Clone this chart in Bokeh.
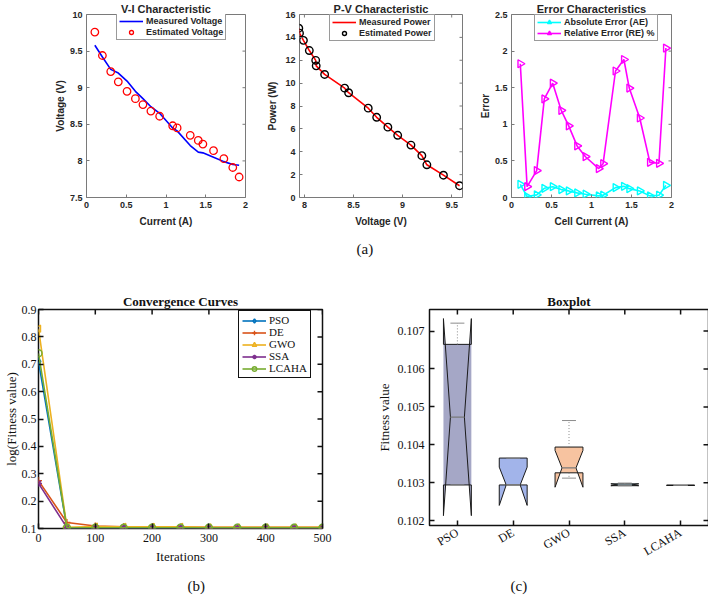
import numpy as np
from bokeh.plotting import figure
from bokeh.layouts import row, column
from bokeh.models import (Legend, LegendItem, Title, FixedTicker,
                          Range1d, CustomJSTickFormatter)
from bokeh.embed import file_html
from bokeh.resources import INLINE

# ---------------- data ----------------
cell_current = [0.105, 0.20, 0.305, 0.40, 0.51, 0.615, 0.71, 0.81, 0.92, 1.084,
                1.14, 1.305, 1.406, 1.464, 1.598, 1.728, 1.84, 1.92]
measured_voltage = [9.58, 9.42, 9.25, 9.20, 9.09, 8.95, 8.85, 8.74, 8.65, 8.45,
                    8.41, 8.21, 8.12, 8.11, 8.05, 7.99, 7.95, 7.94]
estimated_voltage = [9.76, 9.44, 9.22, 9.08, 8.95, 8.85, 8.77, 8.68, 8.61, 8.48,
                     8.45, 8.35, 8.28, 8.23, 8.14, 8.03, 7.91, 7.78]

pv_voltage = [7.943, 7.95, 7.99, 8.05, 8.115, 8.12, 8.206, 8.41, 8.45, 8.65,
              8.736, 8.85, 8.95, 9.085, 9.196, 9.247, 9.416, 9.58]
measured_power = [14.80, 14.37, 13.74, 12.85, 11.99, 11.51, 10.76, 9.56, 9.16, 7.81,
                  7.01, 6.15, 5.44, 4.58, 3.66, 2.86, 1.95, 1.03]
estimated_power = [14.80, 14.37, 13.74, 12.85, 11.99, 11.51, 10.76, 9.56, 9.16, 7.81,
                   7.01, 6.15, 5.44, 4.58, 3.66, 2.86, 1.95, 1.03]

error_current = [0.11, 0.195, 0.315, 0.41, 0.515, 0.622, 0.715, 0.82, 0.925, 1.09,
                 1.145, 1.30, 1.405, 1.472, 1.603, 1.73, 1.843, 1.93]
absolute_error = [0.18, 0.013, 0.036, 0.126, 0.148, 0.108, 0.09, 0.063, 0.045, 0.022,
                  0.031, 0.135, 0.153, 0.121, 0.09, 0.022, 0.031, 0.166]
relative_error = [1.827, 0.148, 0.368, 1.347, 1.562, 1.189, 0.978, 0.705, 0.557, 0.395,
                  0.462, 1.728, 1.885, 1.495, 1.086, 0.48, 0.467, 2.042]

iterations = [0, 50, 100, 150, 200, 250, 300, 350, 400, 450, 500]
conv_pso = [0.71, 0.103, 0.103, 0.103, 0.103, 0.103, 0.103, 0.103, 0.103, 0.103, 0.103]
conv_de = [0.275, 0.122, 0.109, 0.106, 0.105, 0.105, 0.104, 0.104, 0.104, 0.104, 0.104]
conv_gwo = [0.83, 0.104, 0.107, 0.106, 0.106, 0.106, 0.104, 0.104, 0.104, 0.104, 0.104]
conv_ssa = [0.265, 0.103, 0.103, 0.103, 0.103, 0.103, 0.103, 0.103, 0.103, 0.103, 0.103]
conv_lcaha = [0.74, 0.103, 0.103, 0.103, 0.103, 0.103, 0.103, 0.103, 0.103, 0.103, 0.103]
conv_names = ["PSO", "DE", "GWO", "SSA", "LCAHA"]

algorithms = ["PSO", "DE", "GWO", "SSA", "LCAHA"]
box_q1 = [0.10294, 0.10294, 0.10326, 0.10292, 0.10293]
box_median = [0.10473, 0.10294, 0.10339, 0.10294, 0.10293]
box_q3 = [0.10665, 0.10365, 0.10394, 0.10297, 0.10293]
box_notch_lo = [0.10213, 0.10240, 0.10288, 0.10292, 0.10293]
box_notch_hi = [0.10733, 0.10341, 0.10385, 0.10297, 0.10293]
box_whisker_lo = [0.10294, 0.10294, 0.10312, 0.10292, 0.10293]
box_whisker_hi = [0.10721, 0.10365, 0.10464, 0.10299, 0.10293]
box_fill = ["#a5a7c6", "#a2b4ea", "#f7c3a0", "#6fc0e2", "#d0d0d0"]
box_solid_body = [True, False, False, False, False]   # PSO patch is shaded across the whole box

vi_xticks = [0, 0.5, 1, 1.5, 2]
vi_yticks = [7.5, 8, 8.5, 9, 9.5, 10]
pv_xticks = [8, 8.5, 9, 9.5]
pv_yticks = [0, 2, 4, 6, 8, 10, 12, 14, 16]
err_xticks = [0, 0.5, 1, 1.5, 2]
err_yticks = [0, 0.5, 1, 1.5, 2, 2.5]
conv_xticks = [0, 100, 200, 300, 400, 500]
conv_yticks = [0.1, 0.2, 0.3, 0.4, 0.5, 0.6, 0.7, 0.8, 0.9]
box_xticks = [1, 2, 3, 4, 5]
box_yticks = [0.102, 0.103, 0.104, 0.105, 0.106, 0.107]

# ---------------- styling helpers ----------------
SANS = "Liberation Sans"
SERIF = "Liberation Serif"

num_fmt = CustomJSTickFormatter(code="return String(Math.round(tick * 100000) / 100000);")

TOP = dict(font=SANS, tick_size="9px", tick_style="bold", label_size="10px",
           label_style="bold", text="#262626", line="#7a7a7a", lw=1, tick_len=3,
           title_size="11px")
BOT = dict(font=SERIF, tick_size="12px", tick_style="normal", label_size="13px",
           label_style="normal", text="#111111", line="#111111", lw=1.5, tick_len=5,
           title_size="13px")


def base_fig(width, height, left, right, top, bottom, xr, yr, title, st, title_standoff):
    fw = width - left - right
    fh = height - top - bottom
    p = figure(width=width, height=height, x_range=Range1d(*xr), y_range=Range1d(*yr),
               output_backend="svg", toolbar_location=None,
               min_border_left=left, min_border_right=right,
               min_border_top=top, min_border_bottom=bottom)
    p.frame_width = fw
    p.frame_height = fh
    p.xgrid.visible = False
    p.ygrid.visible = False
    p.outline_line_color = st["line"]
    p.outline_line_width = st["lw"]
    p.outline_line_alpha = 1
    p.title.text = title
    p.title.align = "center"
    p.title.text_font = st["font"]
    p.title.text_font_size = st["title_size"]
    p.title.text_font_style = "bold"
    p.title.text_color = st["text"]
    p.title.standoff = title_standoff
    return p, fw, fh


def style_axes(p, fw, fh, st, xticks, yticks, xlabel, ylabel, xfmt=None,
               x_std=4, y_std=4, xl_std=3, yl_std=2):
    xa, ya = p.below[0], p.left[0]
    for ax, ticks, lab, std, lstd in ((xa, xticks, xlabel, x_std, xl_std),
                                      (ya, yticks, ylabel, y_std, yl_std)):
        ax.ticker = FixedTicker(ticks=ticks)
        ax.formatter = num_fmt
        ax.axis_line_color = None
        ax.major_tick_in = st["tick_len"]
        ax.major_tick_out = 0
        ax.major_tick_line_color = st["line"]
        ax.major_tick_line_width = st["lw"]
        ax.minor_tick_line_color = None
        ax.major_label_text_font = st["font"]
        ax.major_label_text_font_size = st["tick_size"]
        ax.major_label_text_font_style = st["tick_style"]
        ax.major_label_text_color = st["text"]
        ax.major_label_standoff = std
        ax.axis_label = lab
        ax.axis_label_text_font = st["font"]
        ax.axis_label_text_font_size = st["label_size"]
        ax.axis_label_text_font_style = st["label_style"]
        ax.axis_label_text_color = st["text"]
        ax.axis_label_standoff = lstd
    if xfmt is not None:
        xa.formatter = xfmt
    # mirrored inward ticks on the top and right edges of the box
    x0, x1 = p.x_range.start, p.x_range.end
    y0, y1 = p.y_range.start, p.y_range.end
    dy = st["tick_len"] * (y1 - y0) / fh
    dx = st["tick_len"] * (x1 - x0) / fw
    xt = np.array(xticks, dtype=float)
    yt = np.array(yticks, dtype=float)
    p.segment(xt, np.full(len(xt), y1), xt, np.full(len(xt), y1 - dy),
              line_color=st["line"], line_width=st["lw"])
    p.segment(np.full(len(yt), x1), yt, np.full(len(yt), x1 - dx), yt,
              line_color=st["line"], line_width=st["lw"])
    return xa, ya


def add_legend(p, items, loc, st, size, style, border, bw, glyph_w, label_h, spacing, padding):
    lg = Legend(items=items, location=loc, orientation="vertical",
                label_text_font=st["font"], label_text_font_size=size,
                label_text_font_style=style, label_text_color=st["text"],
                border_line_color=border, border_line_width=bw, border_line_alpha=1,
                background_fill_color="white", background_fill_alpha=1,
                glyph_width=glyph_w, glyph_height=label_h, label_height=label_h,
                label_standoff=3, spacing=spacing, padding=padding, margin=0)
    p.add_layout(lg)


def caption(p, text, offset, standoff):
    p.add_layout(Title(text=text, align="left", offset=offset, text_font=SERIF,
                       text_font_size="15px", text_font_style="normal",
                       text_color="#111111", standoff=standoff), "below")


# ---------------- (a) V-I ----------------
pA, fwA, fhA = base_fig(252, 290, 86, 7, 14, 93, (0, 2), (7.5, 10), "V-I Characteristic", TOP, -1)
style_axes(pA, fwA, fhA, TOP, vi_xticks, vi_yticks, "Current (A)", "Voltage (V)", xl_std=5, yl_std=1)
rA1 = pA.line(cell_current, measured_voltage, line_color="#0000ff", line_width=1.6)
rA2 = pA.scatter(cell_current, estimated_voltage, marker="circle", size=7.5,
                 fill_color=None, line_color="#ff0000", line_width=1.3)
add_legend(pA, [LegendItem(label="Measured Voltage", renderers=[rA1]),
                LegendItem(label="Estimated Voltage", renderers=[rA2])],
           (30, 157), TOP, "9px", "bold", "#9a9a9a", 1, 24, 10, 1, 2)

# ---------------- (a) P-V ----------------
pB, fwB, fhB = base_fig(215, 290, 47, 5, 14, 93, (7.95, 9.61), (0, 16), "P-V Characteristic", TOP, -1)
style_axes(pB, fwB, fhB, TOP, pv_xticks, pv_yticks, "Voltage (V)", "Power (W)", xl_std=5, yl_std=4)
rB1 = pB.line(pv_voltage, measured_power, line_color="#ff0000", line_width=1.6)
rB2 = pB.scatter(pv_voltage, estimated_power, marker="circle", size=7.5,
                 fill_color=None, line_color="#000000", line_width=1.4)
add_legend(pB, [LegendItem(label="Measured Power", renderers=[rB1]),
                LegendItem(label="Estimated Power", renderers=[rB2])],
           (30, 156), TOP, "9px", "bold", "#9a9a9a", 1, 24, 10, 1, 2)
caption(pB, "(a)", 57, 19)

# ---------------- (a) Error ----------------
pC, fwC, fhC = base_fig(241, 290, 44, 37, 14, 93, (0, 2), (0, 2.5), "Error Characteristics", TOP, -1)
style_axes(pC, fwC, fhC, TOP, err_xticks, err_yticks, "Cell Current (A)", "Error", xl_std=5, yl_std=1)
rC1 = pC.line(error_current, absolute_error, line_color="#00ffff", line_width=1.6)
rC1m = pC.scatter(error_current, absolute_error, marker="triangle", angle=-np.pi / 2,
                  size=8, fill_color=None, line_color="#00ffff", line_width=1.4)
rC2 = pC.line(error_current, relative_error, line_color="#ff00ff", line_width=1.6)
rC2m = pC.scatter(error_current, relative_error, marker="triangle", angle=-np.pi / 2,
                  size=8, fill_color=None, line_color="#ff00ff", line_width=1.4)
add_legend(pC, [LegendItem(label="Absolute Error (AE)", renderers=[rC1, rC1m]),
                LegendItem(label="Relative Error (RE) %", renderers=[rC2, rC2m])],
           (23, 156), TOP, "9px", "bold", "#9a9a9a", 1, 24, 10, 1, 2)

# ---------------- (b) Convergence ----------------
pD, fwD, fhD = base_fig(370, 306, 35, 51, 19, 68, (0, 500), (0.1, 0.9), "Convergence Curves", BOT, 2)
style_axes(pD, fwD, fhD, BOT, conv_xticks, conv_yticks, "Iterations", "log(Fitness value)",
           x_std=5, y_std=2, xl_std=4, yl_std=0)
series = [conv_pso, conv_de, conv_gwo, conv_ssa, conv_lcaha]
colors = ["#0072BD", "#D95319", "#EDB120", "#7E2F8E", "#77AC30"]
markers = ["diamond", "cross", "triangle", "asterisk", "circle"]
angles = [0, 0, np.pi / 2, 0, 0]
items = []
for name, ys, c, m, a in zip(conv_names, series, colors, markers, angles):
    rl = pD.line(iterations, ys, line_color=c, line_width=1.6)
    rm = pD.scatter(iterations, ys, marker=m, angle=a, size=7, fill_color=None,
                    line_color=c, line_width=1.4)
    items.append(LegendItem(label=name, renderers=[rl, rm]))
add_legend(pD, items, (200, 150), BOT, "11px", "normal", "#111111", 1.3, 24, 11, 0, 3)
caption(pD, "(b)", 149, 18)

# ---------------- (c) Boxplot ----------------
box_fmt = CustomJSTickFormatter(args=dict(names=algorithms),
                                code="return names[Math.round(tick) - 1];")
pE, fwE, fhE = base_fig(336, 306, 54, 3, 19, 71, (0.5, 5.5), (0.10187, 0.10757), "Boxplot", BOT, 2)
xaE, yaE = style_axes(pE, fwE, fhE, BOT, box_xticks, box_yticks, None, "Fitness value",
                      xfmt=box_fmt, x_std=6, y_std=5, xl_std=0, yl_std=3)
xaE.major_label_orientation = np.pi / 6

w = 0.25
pos = np.arange(1, len(algorithms) + 1)
# shaded body (full box) where the patch covers the whole box
solid = [i for i, s in enumerate(box_solid_body) if s]
pE.quad(left=[pos[i] - w for i in solid], right=[pos[i] + w for i in solid],
        bottom=[box_q1[i] for i in solid], top=[box_q3[i] for i in solid],
        fill_color=[box_fill[i] for i in solid], line_color=None)
xs, ys = [], []
for i, x in enumerate(pos):
    xs.append([x - w, x - w, x - w / 2, x - w, x - w, x + w, x + w, x + w / 2, x + w, x + w])
    ys.append([box_q1[i], box_notch_lo[i], box_median[i], box_notch_hi[i], box_q3[i],
               box_q3[i], box_notch_hi[i], box_median[i], box_notch_lo[i], box_q1[i]])
pE.patches(xs, ys, fill_color=box_fill, fill_alpha=1, line_color="#1a1a1a", line_width=1)
pE.segment(pos, box_q3, pos, box_whisker_hi, line_color="#8c8c8c", line_width=1, line_dash="1 2")
pE.segment(pos, box_q1, pos, box_whisker_lo, line_color="#8c8c8c", line_width=1, line_dash="1 2")
pE.segment(pos - w / 2, box_whisker_hi, pos + w / 2, box_whisker_hi, line_color="#8c8c8c", line_width=1)
pE.segment(pos - w / 2, box_whisker_lo, pos + w / 2, box_whisker_lo, line_color="#8c8c8c", line_width=1)
pE.segment(pos - w / 2, box_median, pos + w / 2, box_median, line_color="#7a7a7a", line_width=1.2)
caption(pE, "(c)", 81, 16)

layout = column(row(pA, pB, pC), row(pD, pE))
open("out.html", "w").write(file_html(layout, INLINE))
